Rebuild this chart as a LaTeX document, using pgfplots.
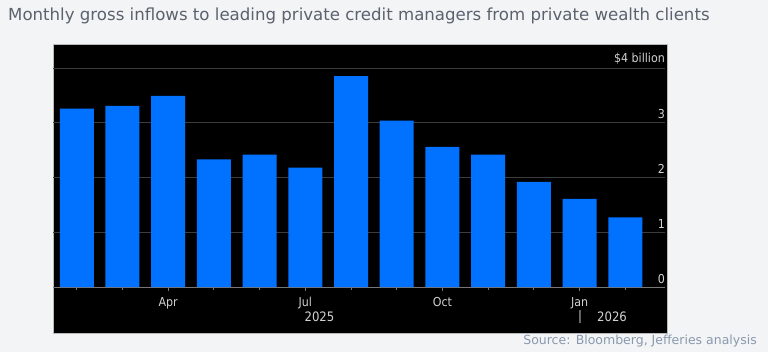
\documentclass[border=0pt]{standalone}
\usepackage{pgfplots}
\pgfplotsset{compat=1.18}
\usepackage{fontspec}
\setmainfont{DejaVu Sans}
\newfontfamily\condfont{DejaVu Sans Condensed}
\definecolor{bg}{HTML}{F3F4F6}
\definecolor{titlec}{HTML}{5A626E}
\definecolor{srcc}{HTML}{8A99AE}
\definecolor{barblue}{HTML}{0072FF}
\definecolor{gridc}{HTML}{3C3C3C}
\definecolor{zeroc}{HTML}{787878}
\definecolor{labc}{HTML}{D2D2D2}
\begin{document}
\begin{tikzpicture}[x=1bp,y=1bp]
\fill[bg] (0,0) rectangle (768,352);
\fill[black] (53,19) rectangle (667,308);
\draw[gray!55, line width=0.8bp] (53,19) rectangle (667,308);
\node[anchor=west, inner sep=0, text=titlec, font=\fontsize{16.6bp}{19bp}\selectfont] at (8,336.5) {Monthly gross inflows to leading private credit managers from private wealth clients};
\begin{axis}[
  at={(53bp,65bp)}, anchor=south west,
  scale only axis, width=612bp, height=219bp,
  xmin=0.48, xmax=13.87, ymin=0, ymax=4,
  axis x line=bottom, axis y line=right,
  x axis line style={-, color=zeroc, line width=0.8bp},
  y axis line style={draw=none},
  ytick={0,1,2,3,4},
  yticklabels={0,1,2,3,{\$4 billion}},
  ytick style={draw=none},
  yticklabel style={anchor=south east, inner sep=2bp, yshift=1.5bp, text=labc, font=\condfont\fontsize{12.3bp}{14bp}\selectfont},
  ymajorgrids, grid style={color=gridc, line width=1bp},
  xtick={3,6,9,12}, xticklabels={Apr,Jul,Oct,Jan},
  minor xtick={1,2,4,5,7,8,10,11,13},
  xtick align=outside,
  major tick length=4bp, minor tick length=2.5bp,
  x tick style={color=zeroc, line width=0.8bp},
  xticklabel style={text=labc, font=\condfont\fontsize{12.3bp}{14bp}\selectfont, inner sep=3bp, yshift=-3bp},
  /pgf/number format/assume math mode=true,
  ybar, bar width=34bp,
]
\addplot[fill=barblue, draw=none] coordinates {
(1,3.26) (2,3.31) (3,3.49) (4,2.33) (5,2.42) (6,2.18) (7,3.85)
(8,3.04) (9,2.56) (10,2.42) (11,1.92) (12,1.61) (13,1.27)};
\end{axis}
\node[text=labc, inner sep=0, font=\condfont\fontsize{13bp}{15bp}\selectfont] at (319.5,35) {2025};
\node[text=labc, inner sep=0, font=\condfont\fontsize{13bp}{15bp}\selectfont] at (580,35) {|};
\node[text=labc, inner sep=0, font=\condfont\fontsize{13bp}{15bp}\selectfont] at (612,35) {2026};
\node[anchor=east, inner sep=0, text=srcc, font=\fontsize{12.5bp}{14bp}\selectfont] at (757,11) {Source: Bloomberg, Jefferies analysis};
\end{tikzpicture}
\end{document}
